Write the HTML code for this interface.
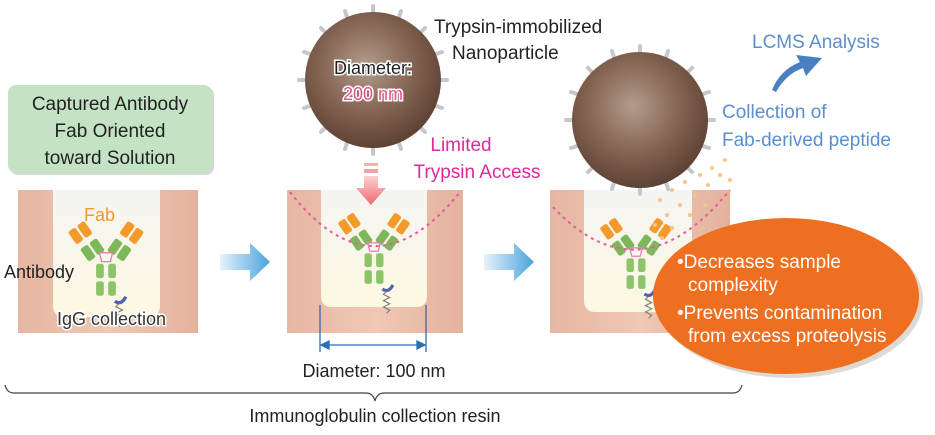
<!DOCTYPE html>
<html><head><meta charset="utf-8"><style>
html,body{margin:0;padding:0;background:#fff;}
svg{display:block;font-family:"Liberation Sans",sans-serif;}
</style></head><body>
<svg width="935" height="435" viewBox="0 0 935 435" xmlns="http://www.w3.org/2000/svg">
<defs>
<radialGradient id="sph" cx="0.45" cy="0.4" r="0.6">
<stop offset="0" stop-color="#b39c8c"/><stop offset="0.5" stop-color="#8a6a58"/><stop offset="1" stop-color="#5e4233"/>
</radialGradient>
<linearGradient id="well" x1="0" y1="0" x2="0" y2="1">
<stop offset="0" stop-color="#f4f4f2"/><stop offset="1" stop-color="#fdf8e2"/>
</linearGradient>
<linearGradient id="blk" x1="0" y1="0" x2="1" y2="0">
<stop offset="0" stop-color="#e6b6a2"/><stop offset="0.5" stop-color="#f0c8b4"/><stop offset="1" stop-color="#e3b29d"/>
</linearGradient>
<linearGradient id="barr" x1="0" y1="0" x2="1" y2="0">
<stop offset="0" stop-color="#e6f2fb"/><stop offset="1" stop-color="#4aa3dc"/>
</linearGradient>
<linearGradient id="pk" x1="0" y1="0" x2="0" y2="1">
<stop offset="0" stop-color="#fbd0d0"/><stop offset="1" stop-color="#ee6a72"/>
</linearGradient>
<g id="ab">
<g transform="rotate(-35 -22 -20)"><rect x="-32" y="-28" width="8" height="14" rx="2" fill="#f39a2b"/><rect x="-22" y="-28" width="8" height="14" rx="2" fill="#f39a2b"/></g>
<g transform="rotate(-35 -12 -6)"><rect x="-22" y="-12" width="8" height="14" rx="2" fill="#7cb85a"/><rect x="-12" y="-12" width="8" height="14" rx="2" fill="#7cb85a"/></g>
<g transform="rotate(35 22 -20)"><rect x="14" y="-28" width="8" height="14" rx="2" fill="#f39a2b"/><rect x="24" y="-28" width="8" height="14" rx="2" fill="#f39a2b"/></g>
<g transform="rotate(35 12 -6)"><rect x="4" y="-12" width="8" height="14" rx="2" fill="#7cb85a"/><rect x="14" y="-12" width="8" height="14" rx="2" fill="#7cb85a"/></g>
<path d="M-6 -2 L6 -2 L4 6 L-4 6 Z" fill="none" stroke="#e47fb2" stroke-width="1.2"/>
<rect x="-9" y="8" width="7" height="13" rx="2" fill="#8cc46a"/><rect x="2" y="8" width="7" height="13" rx="2" fill="#8cc46a"/>
<rect x="-9" y="24" width="7" height="13" rx="2" fill="#8cc46a"/><rect x="2" y="24" width="7" height="13" rx="2" fill="#8cc46a"/>
<path d="M8 42 Q14 46 18 38" fill="none" stroke="#4b64b3" stroke-width="3"/>
<path d="M12 44 l-3 3 l6 3 l-6 3 l6 3 l-6 3 l6 3 l-3 3" fill="none" stroke="#777" stroke-width="1"/>
</g>
<g id="spk">
<line x1="0" y1="-68" x2="0" y2="-74"/><line x1="0" y1="68" x2="0" y2="74"/><line x1="-68" y1="0" x2="-74" y2="0"/><line x1="68" y1="0" x2="74" y2="0"/>
<line x1="48" y1="-48" x2="52" y2="-52"/><line x1="-48" y1="-48" x2="-52" y2="-52"/><line x1="48" y1="48" x2="52" y2="52"/><line x1="-48" y1="48" x2="-52" y2="52"/>
<line x1="26" y1="-63" x2="28" y2="-69"/><line x1="-26" y1="-63" x2="-28" y2="-69"/><line x1="63" y1="26" x2="69" y2="28"/><line x1="-63" y1="26" x2="-69" y2="28"/>
<line x1="63" y1="-26" x2="69" y2="-28"/><line x1="-63" y1="-26" x2="-69" y2="-28"/><line x1="26" y1="63" x2="28" y2="69"/><line x1="-26" y1="63" x2="-28" y2="69"/>
</g>
</defs>

<rect x="10" y="87" width="204" height="88" rx="8" fill="#b0b0b0" opacity="0.5"/>
<rect x="8" y="85" width="204" height="88" rx="8" fill="#c4e2c4"/>
<g font-size="19" fill="#222" text-anchor="middle">
<text x="110" y="110">Captured Antibody</text>
<text x="110" y="137">Fab Oriented</text>
<text x="110" y="164">toward Solution</text>
</g>

<rect x="18" y="190" width="180" height="143" fill="url(#blk)"/>
<path d="M53 190 H160 V305 Q160 317 148 317 H65 Q53 317 53 305 Z" fill="url(#well)"/>
<rect x="287" y="190" width="176" height="143" fill="url(#blk)"/>
<path d="M321 190 H427 V296 Q427 307 416 307 H332 Q321 307 321 296 Z" fill="url(#well)"/>
<rect x="550" y="190" width="180" height="143" fill="url(#blk)"/>
<path d="M584 190 H692 V300 Q692 312 680 312 H596 Q584 312 584 300 Z" fill="url(#well)"/>

<use href="#ab" transform="translate(106 255) scale(1.1)"/>
<use href="#ab" transform="translate(374 245) scale(1.05)"/>
<use href="#ab" transform="translate(636 250) scale(1.05)"/>

<path d="M290 192 Q374 300 460 192" fill="none" stroke="#e55a9e" stroke-width="2" stroke-dasharray="3,4"/>
<path d="M553 207 Q640 300 730 190" fill="none" stroke="#e55a9e" stroke-width="2" stroke-dasharray="3,4"/>

<g fill="#f5c48a">
<circle cx="660" cy="200" r="2"/><circle cx="672" cy="190" r="2"/><circle cx="685" cy="182" r="2"/><circle cx="700" cy="175" r="2"/><circle cx="712" cy="168" r="2"/><circle cx="725" cy="160" r="2"/><circle cx="667" cy="215" r="2"/><circle cx="680" cy="205" r="2"/><circle cx="695" cy="195" r="2"/><circle cx="708" cy="185" r="2"/><circle cx="720" cy="175" r="2"/><circle cx="655" cy="225" r="2"/><circle cx="672" cy="228" r="2"/><circle cx="690" cy="215" r="2"/><circle cx="705" cy="205" r="2"/><circle cx="730" cy="180" r="2"/><circle cx="662" cy="238" r="2"/>
</g>

<path d="M220 254 H250 V243 L270 262 L250 281 V270 H220 Z" fill="url(#barr)"/>
<path d="M484 254 H514 V243 L534 262 L514 281 V270 H484 Z" fill="url(#barr)"/>

<rect x="364" y="163" width="14" height="3" fill="#f6b0b0"/>
<rect x="364" y="169" width="14" height="4" fill="#f3a0a0"/>
<path d="M364 176 H378 V188 H386 L371 205 L356 188 H364 Z" fill="url(#pk)"/>

<g stroke="#c4c8cc" stroke-width="4" stroke-linecap="round">
<use href="#spk" transform="translate(373 80)"/>
<use href="#spk" transform="translate(640 120)"/>
</g>
<circle cx="373" cy="80" r="68" fill="url(#sph)"/>
<circle cx="640" cy="120" r="68" fill="url(#sph)"/>

<text x="373" y="74" font-size="18" text-anchor="middle" fill="#222" stroke="#fff" stroke-width="3" paint-order="stroke">Diameter:</text>
<text x="373" y="100" font-size="18" text-anchor="middle" fill="#e8508a" stroke="#fff" stroke-width="3" paint-order="stroke">200 nm</text>

<ellipse cx="790" cy="300" rx="133" ry="78" fill="#b0a090" opacity="0.4"/>
<ellipse cx="786" cy="296" rx="133" ry="78" fill="#ef6f20"/>
<g font-size="19" fill="#fff">
<text x="677" y="268">•Decreases sample</text>
<text x="688" y="291">complexity</text>
<text x="677" y="319">•Prevents contamination</text>
<text x="688" y="342">from excess proteolysis</text>
</g>

<text x="84" y="221" font-size="18" fill="#f39a2b">Fab</text>
<text x="4" y="278" font-size="18" fill="#222">Antibody</text>
<text x="57" y="325" font-size="18" fill="#333" stroke="#fff" stroke-width="3" paint-order="stroke">IgG collection</text>
<text x="434" y="33" font-size="19" fill="#222">Trypsin-immobilized</text>
<text x="452" y="59" font-size="19" fill="#222">Nanoparticle</text>
<text x="461" y="151" font-size="19" text-anchor="middle" fill="#e0289a">Limited</text>
<text x="477" y="178" font-size="19" text-anchor="middle" fill="#e0289a">Trypsin Access</text>
<text x="752" y="48" font-size="19" fill="#5b8fcc">LCMS Analysis</text>
<text x="722" y="118" font-size="19" fill="#5b8fcc">Collection of</text>
<text x="722" y="146" font-size="19" fill="#5b8fcc">Fab-derived peptide</text>
<path d="M772 90 Q780 70 800 62 L796 55 L822 58 L806 76 L803 68 Q786 74 776 92 Z" fill="#4a7fc4"/>

<g stroke="#2e6db4" stroke-width="1.3" fill="#2e6db4">
<line x1="320" y1="305" x2="320" y2="352"/><line x1="426" y1="305" x2="426" y2="352"/>
<line x1="324" y1="345" x2="422" y2="345"/>
<path d="M321 345 l8 -4 v8 Z"/><path d="M425 345 l-8 -4 v8 Z"/>
</g>
<text x="374" y="377" font-size="18" text-anchor="middle" fill="#222">Diameter: 100 nm</text>

<path d="M5 385 Q7 393 14 393 H366 Q373 393 375 401 Q377 393 384 393 H733 Q740 393 742 385" fill="none" stroke="#444" stroke-width="1.2"/>
<text x="375" y="422" font-size="18" text-anchor="middle" fill="#222">Immunoglobulin collection resin</text>
</svg>
</body></html>
